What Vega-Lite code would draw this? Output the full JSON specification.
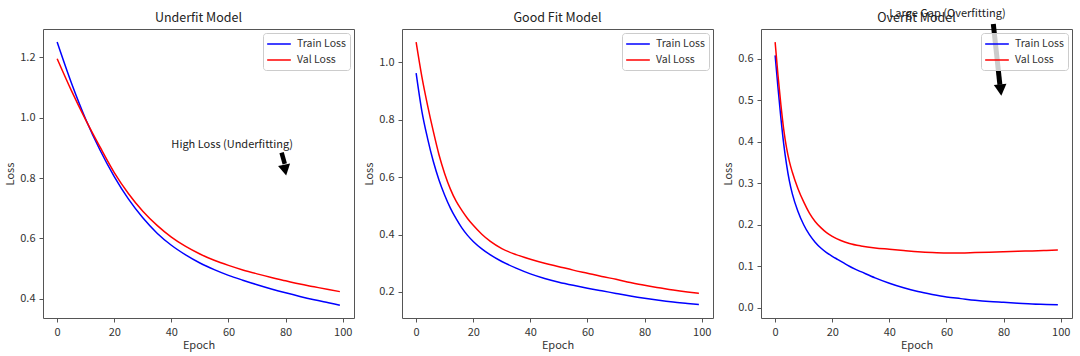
{
  "$schema": "https://vega.github.io/schema/vega-lite/v6.json",
  "background": "white",
  "padding": {"left": 4, "top": 7, "right": 4, "bottom": 2},
  "spacing": 8,
  "datasets": {
    "loss": [
      {"m":"U","s":"Train Loss","e":0,"l":1.251},{"m":"U","s":"Train Loss","e":5,"l":1.115},{"m":"U","s":"Train Loss","e":10,"l":0.995},{"m":"U","s":"Train Loss","e":15,"l":0.893},{"m":"U","s":"Train Loss","e":20,"l":0.805},{"m":"U","s":"Train Loss","e":25,"l":0.73},{"m":"U","s":"Train Loss","e":30,"l":0.668},{"m":"U","s":"Train Loss","e":35,"l":0.617},{"m":"U","s":"Train Loss","e":40,"l":0.577},{"m":"U","s":"Train Loss","e":45,"l":0.545},{"m":"U","s":"Train Loss","e":50,"l":0.518},{"m":"U","s":"Train Loss","e":55,"l":0.496},{"m":"U","s":"Train Loss","e":60,"l":0.477},{"m":"U","s":"Train Loss","e":65,"l":0.461},{"m":"U","s":"Train Loss","e":70,"l":0.446},{"m":"U","s":"Train Loss","e":75,"l":0.432},{"m":"U","s":"Train Loss","e":80,"l":0.419},{"m":"U","s":"Train Loss","e":85,"l":0.407},{"m":"U","s":"Train Loss","e":90,"l":0.396},{"m":"U","s":"Train Loss","e":95,"l":0.386},{"m":"U","s":"Train Loss","e":99,"l":0.378},
      {"m":"U","s":"Val Loss","e":0,"l":1.196},{"m":"U","s":"Val Loss","e":5,"l":1.09},{"m":"U","s":"Val Loss","e":10,"l":0.993},{"m":"U","s":"Val Loss","e":15,"l":0.903},{"m":"U","s":"Val Loss","e":20,"l":0.818},{"m":"U","s":"Val Loss","e":25,"l":0.748},{"m":"U","s":"Val Loss","e":30,"l":0.69},{"m":"U","s":"Val Loss","e":35,"l":0.643},{"m":"U","s":"Val Loss","e":40,"l":0.604},{"m":"U","s":"Val Loss","e":45,"l":0.573},{"m":"U","s":"Val Loss","e":50,"l":0.548},{"m":"U","s":"Val Loss","e":55,"l":0.527},{"m":"U","s":"Val Loss","e":60,"l":0.51},{"m":"U","s":"Val Loss","e":65,"l":0.495},{"m":"U","s":"Val Loss","e":70,"l":0.482},{"m":"U","s":"Val Loss","e":75,"l":0.47},{"m":"U","s":"Val Loss","e":80,"l":0.459},{"m":"U","s":"Val Loss","e":85,"l":0.448},{"m":"U","s":"Val Loss","e":90,"l":0.439},{"m":"U","s":"Val Loss","e":95,"l":0.43},{"m":"U","s":"Val Loss","e":99,"l":0.423},
      {"m":"G","s":"Train Loss","e":0,"l":0.962},{"m":"G","s":"Train Loss","e":2,"l":0.83},{"m":"G","s":"Train Loss","e":4,"l":0.735},{"m":"G","s":"Train Loss","e":6,"l":0.655},{"m":"G","s":"Train Loss","e":8,"l":0.59},{"m":"G","s":"Train Loss","e":10,"l":0.537},{"m":"G","s":"Train Loss","e":12,"l":0.492},{"m":"G","s":"Train Loss","e":14,"l":0.455},{"m":"G","s":"Train Loss","e":16,"l":0.423},{"m":"G","s":"Train Loss","e":18,"l":0.397},{"m":"G","s":"Train Loss","e":20,"l":0.376},{"m":"G","s":"Train Loss","e":23,"l":0.35},{"m":"G","s":"Train Loss","e":26,"l":0.329},{"m":"G","s":"Train Loss","e":30,"l":0.306},{"m":"G","s":"Train Loss","e":35,"l":0.283},{"m":"G","s":"Train Loss","e":40,"l":0.263},{"m":"G","s":"Train Loss","e":45,"l":0.247},{"m":"G","s":"Train Loss","e":50,"l":0.234},{"m":"G","s":"Train Loss","e":55,"l":0.223},{"m":"G","s":"Train Loss","e":60,"l":0.213},{"m":"G","s":"Train Loss","e":65,"l":0.204},{"m":"G","s":"Train Loss","e":70,"l":0.195},{"m":"G","s":"Train Loss","e":75,"l":0.186},{"m":"G","s":"Train Loss","e":80,"l":0.178},{"m":"G","s":"Train Loss","e":85,"l":0.171},{"m":"G","s":"Train Loss","e":90,"l":0.165},{"m":"G","s":"Train Loss","e":95,"l":0.16},{"m":"G","s":"Train Loss","e":99,"l":0.156},
      {"m":"G","s":"Val Loss","e":0,"l":1.07},{"m":"G","s":"Val Loss","e":2,"l":0.95},{"m":"G","s":"Val Loss","e":4,"l":0.85},{"m":"G","s":"Val Loss","e":6,"l":0.76},{"m":"G","s":"Val Loss","e":8,"l":0.678},{"m":"G","s":"Val Loss","e":10,"l":0.612},{"m":"G","s":"Val Loss","e":12,"l":0.558},{"m":"G","s":"Val Loss","e":14,"l":0.516},{"m":"G","s":"Val Loss","e":16,"l":0.484},{"m":"G","s":"Val Loss","e":18,"l":0.456},{"m":"G","s":"Val Loss","e":20,"l":0.432},{"m":"G","s":"Val Loss","e":23,"l":0.401},{"m":"G","s":"Val Loss","e":26,"l":0.376},{"m":"G","s":"Val Loss","e":30,"l":0.351},{"m":"G","s":"Val Loss","e":35,"l":0.33},{"m":"G","s":"Val Loss","e":40,"l":0.314},{"m":"G","s":"Val Loss","e":45,"l":0.3},{"m":"G","s":"Val Loss","e":50,"l":0.288},{"m":"G","s":"Val Loss","e":55,"l":0.276},{"m":"G","s":"Val Loss","e":60,"l":0.265},{"m":"G","s":"Val Loss","e":65,"l":0.254},{"m":"G","s":"Val Loss","e":70,"l":0.244},{"m":"G","s":"Val Loss","e":75,"l":0.233},{"m":"G","s":"Val Loss","e":80,"l":0.223},{"m":"G","s":"Val Loss","e":85,"l":0.215},{"m":"G","s":"Val Loss","e":90,"l":0.207},{"m":"G","s":"Val Loss","e":95,"l":0.2},{"m":"G","s":"Val Loss","e":99,"l":0.195},
      {"m":"O","s":"Train Loss","e":0,"l":0.608},{"m":"O","s":"Train Loss","e":1,"l":0.53},{"m":"O","s":"Train Loss","e":2,"l":0.458},{"m":"O","s":"Train Loss","e":3,"l":0.395},{"m":"O","s":"Train Loss","e":4,"l":0.345},{"m":"O","s":"Train Loss","e":5,"l":0.305},{"m":"O","s":"Train Loss","e":6,"l":0.275},{"m":"O","s":"Train Loss","e":8,"l":0.232},{"m":"O","s":"Train Loss","e":10,"l":0.2},{"m":"O","s":"Train Loss","e":12,"l":0.176},{"m":"O","s":"Train Loss","e":14,"l":0.158},{"m":"O","s":"Train Loss","e":16,"l":0.144},{"m":"O","s":"Train Loss","e":18,"l":0.133},{"m":"O","s":"Train Loss","e":20,"l":0.124},{"m":"O","s":"Train Loss","e":22,"l":0.116},{"m":"O","s":"Train Loss","e":24,"l":0.108},{"m":"O","s":"Train Loss","e":26,"l":0.1},{"m":"O","s":"Train Loss","e":28,"l":0.093},{"m":"O","s":"Train Loss","e":30,"l":0.087},{"m":"O","s":"Train Loss","e":35,"l":0.072},{"m":"O","s":"Train Loss","e":40,"l":0.059},{"m":"O","s":"Train Loss","e":45,"l":0.048},{"m":"O","s":"Train Loss","e":50,"l":0.039},{"m":"O","s":"Train Loss","e":55,"l":0.032},{"m":"O","s":"Train Loss","e":60,"l":0.026},{"m":"O","s":"Train Loss","e":65,"l":0.022},{"m":"O","s":"Train Loss","e":70,"l":0.018},{"m":"O","s":"Train Loss","e":75,"l":0.015},{"m":"O","s":"Train Loss","e":80,"l":0.013},{"m":"O","s":"Train Loss","e":85,"l":0.011},{"m":"O","s":"Train Loss","e":90,"l":0.009},{"m":"O","s":"Train Loss","e":95,"l":0.008},{"m":"O","s":"Train Loss","e":99,"l":0.007},
      {"m":"O","s":"Val Loss","e":0,"l":0.64},{"m":"O","s":"Val Loss","e":1,"l":0.56},{"m":"O","s":"Val Loss","e":2,"l":0.49},{"m":"O","s":"Val Loss","e":3,"l":0.43},{"m":"O","s":"Val Loss","e":4,"l":0.385},{"m":"O","s":"Val Loss","e":5,"l":0.352},{"m":"O","s":"Val Loss","e":6,"l":0.327},{"m":"O","s":"Val Loss","e":8,"l":0.287},{"m":"O","s":"Val Loss","e":10,"l":0.255},{"m":"O","s":"Val Loss","e":12,"l":0.228},{"m":"O","s":"Val Loss","e":14,"l":0.208},{"m":"O","s":"Val Loss","e":16,"l":0.193},{"m":"O","s":"Val Loss","e":18,"l":0.181},{"m":"O","s":"Val Loss","e":20,"l":0.172},{"m":"O","s":"Val Loss","e":23,"l":0.162},{"m":"O","s":"Val Loss","e":26,"l":0.155},{"m":"O","s":"Val Loss","e":30,"l":0.149},{"m":"O","s":"Val Loss","e":35,"l":0.144},{"m":"O","s":"Val Loss","e":40,"l":0.141},{"m":"O","s":"Val Loss","e":45,"l":0.138},{"m":"O","s":"Val Loss","e":50,"l":0.135},{"m":"O","s":"Val Loss","e":55,"l":0.133},{"m":"O","s":"Val Loss","e":60,"l":0.132},{"m":"O","s":"Val Loss","e":65,"l":0.132},{"m":"O","s":"Val Loss","e":70,"l":0.133},{"m":"O","s":"Val Loss","e":75,"l":0.134},{"m":"O","s":"Val Loss","e":80,"l":0.135},{"m":"O","s":"Val Loss","e":85,"l":0.136},{"m":"O","s":"Val Loss","e":90,"l":0.137},{"m":"O","s":"Val Loss","e":95,"l":0.138},{"m":"O","s":"Val Loss","e":99,"l":0.139}
    ],
    "notes": [
      {"m":"U","t":"High Loss (Underfitting)","x":40,"y":0.9,"x0":78.6,"y0":0.884,"x1":79.7,"y1":0.847,"tx":80.2,"ty":0.808},
      {"m":"O","t":"Large Gap (Overfitting)","x":40,"y":0.7,"x0":76.4,"y0":0.684,"x1":78.7,"y1":0.5375,"tx":79.2,"ty":0.511}
    ]
  },
  "hconcat": [
    {
      "title": "Underfit Model",
      "width": 311, "height": 289,
      "layer": [
        {
          "data": {"name": "loss"},
          "transform": [{"filter": "datum.m === 'U'"}],
          "mark": {"type": "line", "interpolate": "monotone", "strokeWidth": 1.5},
          "encoding": {
            "x": {"field": "e", "type": "quantitative", "title": "Epoch", "scale": {"domain": [-4.95, 103.95], "nice": false, "zero": false}, "axis": {"values": [0, 20, 40, 60, 80, 100]}},
            "y": {"field": "l", "type": "quantitative", "title": "Loss", "scale": {"domain": [0.3355, 1.2945], "nice": false, "zero": false}, "axis": {"values": [0.4, 0.6, 0.8, 1.0, 1.2], "format": ".1f"}},
            "color": {"field": "s", "type": "nominal", "scale": {"domain": ["Train Loss", "Val Loss"], "range": ["#0000ff", "#ff0000"]}, "legend": {"title": null}}
          }
        },
        {
          "data": {"name": "notes"},
          "transform": [{"filter": "datum.m === 'U'"}],
          "mark": {"type": "text", "align": "left", "baseline": "alphabetic", "fontSize": 11, "color": "#222"},
          "encoding": {"x": {"field": "x", "type": "quantitative"}, "y": {"field": "y", "type": "quantitative"}, "text": {"field": "t"}}
        },
        {
          "data": {"name": "notes"},
          "transform": [{"filter": "datum.m === 'U'"}],
          "mark": {"type": "rule", "strokeWidth": 4.5, "color": "black", "strokeCap": "butt"},
          "encoding": {"x": {"field": "x0", "type": "quantitative"}, "y": {"field": "y0", "type": "quantitative"}, "x2": {"field": "x1"}, "y2": {"field": "y1"}}
        },
        {
          "data": {"name": "notes"},
          "transform": [{"filter": "datum.m === 'U'"}],
          "mark": {"type": "point", "shape": "M-1,-1.8L1,-1.8L0,0Z", "filled": true, "color": "black", "opacity": 1, "size": 150, "angle": -11},
          "encoding": {"x": {"field": "tx", "type": "quantitative"}, "y": {"field": "ty", "type": "quantitative"}}
        }
      ]
    },
    {
      "title": "Good Fit Model",
      "width": 311, "height": 289,
      "layer": [
        {
          "data": {"name": "loss"},
          "transform": [{"filter": "datum.m === 'G'"}],
          "mark": {"type": "line", "interpolate": "monotone", "strokeWidth": 1.5},
          "encoding": {
            "x": {"field": "e", "type": "quantitative", "title": "Epoch", "scale": {"domain": [-4.95, 103.95], "nice": false, "zero": false}, "axis": {"values": [0, 20, 40, 60, 80, 100]}},
            "y": {"field": "l", "type": "quantitative", "title": "Loss", "scale": {"domain": [0.1093, 1.1157], "nice": false, "zero": false}, "axis": {"values": [0.2, 0.4, 0.6, 0.8, 1.0], "format": ".1f"}},
            "color": {"field": "s", "type": "nominal", "scale": {"domain": ["Train Loss", "Val Loss"], "range": ["#0000ff", "#ff0000"]}, "legend": {"title": null}}
          }
        }
      ]
    },
    {
      "title": {"text": "Overfit Model", "offset": -16},
      "width": 311, "height": 289,
      "layer": [
        {
          "data": {"name": "loss"},
          "transform": [{"filter": "datum.m === 'O'"}],
          "mark": {"type": "line", "interpolate": "monotone", "strokeWidth": 1.5},
          "encoding": {
            "x": {"field": "e", "type": "quantitative", "title": "Epoch", "scale": {"domain": [-4.95, 103.95], "nice": false, "zero": false}, "axis": {"values": [0, 20, 40, 60, 80, 100]}},
            "y": {"field": "l", "type": "quantitative", "title": "Loss", "scale": {"domain": [-0.0247, 0.6717], "nice": false, "zero": false}, "axis": {"values": [0.0, 0.1, 0.2, 0.3, 0.4, 0.5, 0.6], "format": ".1f"}},
            "color": {"field": "s", "type": "nominal", "scale": {"domain": ["Train Loss", "Val Loss"], "range": ["#0000ff", "#ff0000"]}, "legend": {"title": null}}
          }
        },
        {
          "data": {"name": "notes"},
          "transform": [{"filter": "datum.m === 'O'"}],
          "mark": {"type": "text", "align": "left", "baseline": "alphabetic", "fontSize": 11, "color": "#222"},
          "encoding": {"x": {"field": "x", "type": "quantitative"}, "y": {"field": "y", "type": "quantitative"}, "text": {"field": "t"}}
        },
        {
          "data": {"name": "notes"},
          "transform": [{"filter": "datum.m === 'O'"}],
          "mark": {"type": "rule", "strokeWidth": 5, "color": "black", "strokeCap": "butt"},
          "encoding": {"x": {"field": "x0", "type": "quantitative"}, "y": {"field": "y0", "type": "quantitative"}, "x2": {"field": "x1"}, "y2": {"field": "y1"}}
        },
        {
          "data": {"name": "notes"},
          "transform": [{"filter": "datum.m === 'O'"}],
          "mark": {"type": "point", "shape": "M-1,-1.8L1,-1.8L0,0Z", "filled": true, "color": "black", "opacity": 1, "size": 160, "angle": -6},
          "encoding": {"x": {"field": "tx", "type": "quantitative"}, "y": {"field": "ty", "type": "quantitative"}}
        }
      ]
    }
  ],
  "resolve": {"scale": {"x": "independent", "y": "independent", "color": "independent"}, "legend": {"color": "independent"}},
  "config": {
    "font": "Noto Sans CJK SC",
    "view": {"stroke": "#555555", "strokeWidth": 1},
    "title": {"font": "Noto Sans CJK SC", "fontSize": 12.5, "fontWeight": "normal", "color": "#222222", "offset": 5},
    "axis": {"labelFont": "Noto Sans CJK SC", "titleFont": "Noto Sans CJK SC", "labelFontSize": 11, "titleFontSize": 11, "titleFontWeight": "normal", "labelColor": "#333333", "titleColor": "#333333", "tickColor": "#555555", "domain": false, "grid": false, "tickSize": 4, "labelPadding": 4},
    "axisY": {"titlePadding": 4},
    "axisX": {"titlePadding": 2},
    "legend": {"orient": "top-right", "offset": 4, "padding": 4, "strokeColor": "#cccccc", "fillColor": "rgba(255,255,255,0.8)", "cornerRadius": 3, "symbolType": "M-2,0L2,0", "symbolSize": 140, "symbolStrokeWidth": 1.5, "symbolOffset": 5, "labelFont": "Noto Sans CJK SC", "labelFontSize": 10.5, "labelColor": "#333333", "labelOffset": 11, "rowPadding": 3}
  }
}
